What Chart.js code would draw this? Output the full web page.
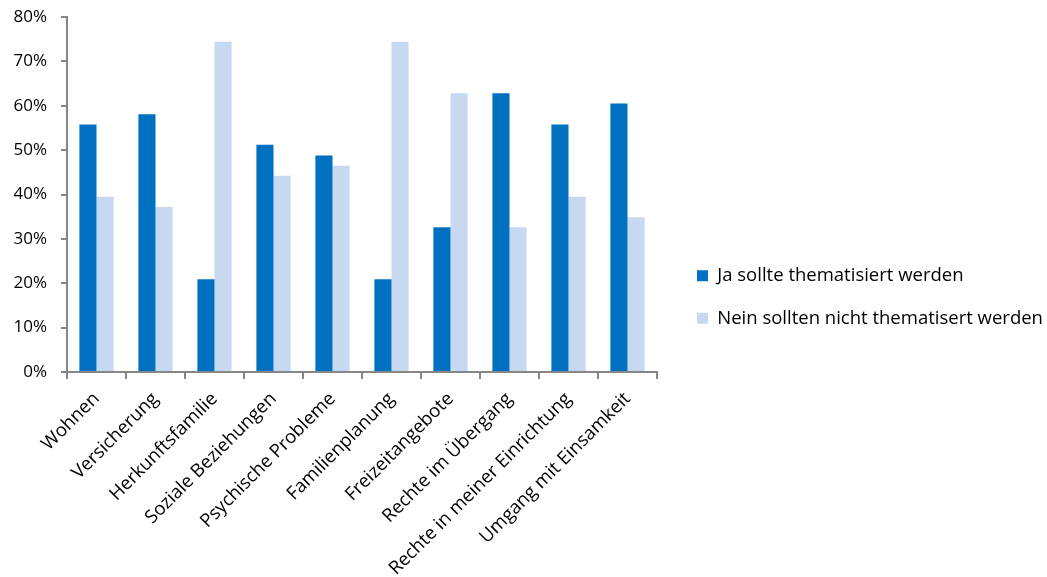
<!DOCTYPE html>
<html>
<head>
<meta charset="utf-8">
<script src="https://cdn.jsdelivr.net/npm/chart.js@4/dist/chart.umd.min.js"></script>
<style>
  html, body { margin: 0; padding: 0; background: #fff; }
  #wrap { width: 1047px; height: 577px; position: relative; }
</style>
</head>
<body>
<div id="wrap"><canvas id="c"></canvas></div>
<script>
const categories = [
  "Wohnen", "Versicherung", "Herkunftsfamilie", "Soziale Beziehungen",
  "Psychische Probleme", "Familienplanung", "Freizeitangebote",
  "Rechte im Übergang", "Rechte in meiner Einrichtung", "Umgang mit Einsamkeit"
];
const seriesJa = [55.8, 58.1, 20.9, 51.2, 48.8, 20.9, 32.6, 62.8, 55.8, 60.5];
const seriesNein = [39.5, 37.2, 74.4, 44.2, 46.5, 74.4, 62.8, 32.6, 39.5, 34.9];
const seriesNames = ["Ja sollte thematisiert werden", "Nein sollten nicht thematisert werden"];
const yTicks = [0, 10, 20, 30, 40, 50, 60, 70, 80];

const FONT = "'Open Sans', 'Liberation Sans', sans-serif";
const AXIS = "#868686";

const legendShift = {
  id: 'legendShift',
  afterInit(chart) {
    const lg = chart.legend;
    const fit = lg.fit.bind(lg);
    lg.fit = function () { fit(); this.width = 390; };
  },
  afterLayout(chart) {
    chart.legend.left += 16;
  }
};

new Chart(document.getElementById('c'), {
  type: 'bar',
  data: {
    labels: categories,
    datasets: [
      { label: seriesNames[0], data: seriesJa, backgroundColor: '#0070C0', borderWidth: 0 },
      { label: seriesNames[1], data: seriesNein, backgroundColor: '#C6D9F1', borderWidth: 0 }
    ]
  },
  options: {
    responsive: true,
    maintainAspectRatio: false,
    animation: false,
    layout: { padding: { top: 17, right: 0, left: 0, bottom: 0 } },
    datasets: { bar: { categoryPercentage: 0.58, barPercentage: 1.0 } },
    plugins: {
      tooltip: { enabled: false },
      legend: {
        position: 'right',
        labels: {
          boxWidth: 11, boxHeight: 11, padding: 24,
          color: '#000',
          font: { family: FONT, size: 18.5 }
        }
      }
    },
    scales: {
      x: {
        grid: { display: true, drawOnChartArea: false, offset: true, color: AXIS, tickLength: 7, lineWidth: 2 },
        border: { display: true, color: AXIS, width: 2 },
        ticks: {
          color: '#000', maxRotation: 45, minRotation: 45, autoSkip: false,
          font: { family: FONT, size: 18.5 }, padding: 9
        },
        afterFit: (s) => { s.height = 205; }
      },
      y: {
        min: 0, max: 80,
        afterBuildTicks: (s) => { s.ticks = yTicks.map(v => ({ value: v })); },
        grid: { display: true, drawOnChartArea: false, color: AXIS, tickLength: 6, lineWidth: 2 },
        border: { display: true, color: AXIS, width: 2 },
        ticks: {
          color: '#000', padding: 14,
          font: { family: FONT, size: 17 },
          callback: (v) => v + '%'
        },
        afterFit: (s) => { s.width = 67; s.paddingTop = 0; s.paddingBottom = 0; }
      }
    }
  },
  plugins: [legendShift]
});
</script>
</body>
</html>
